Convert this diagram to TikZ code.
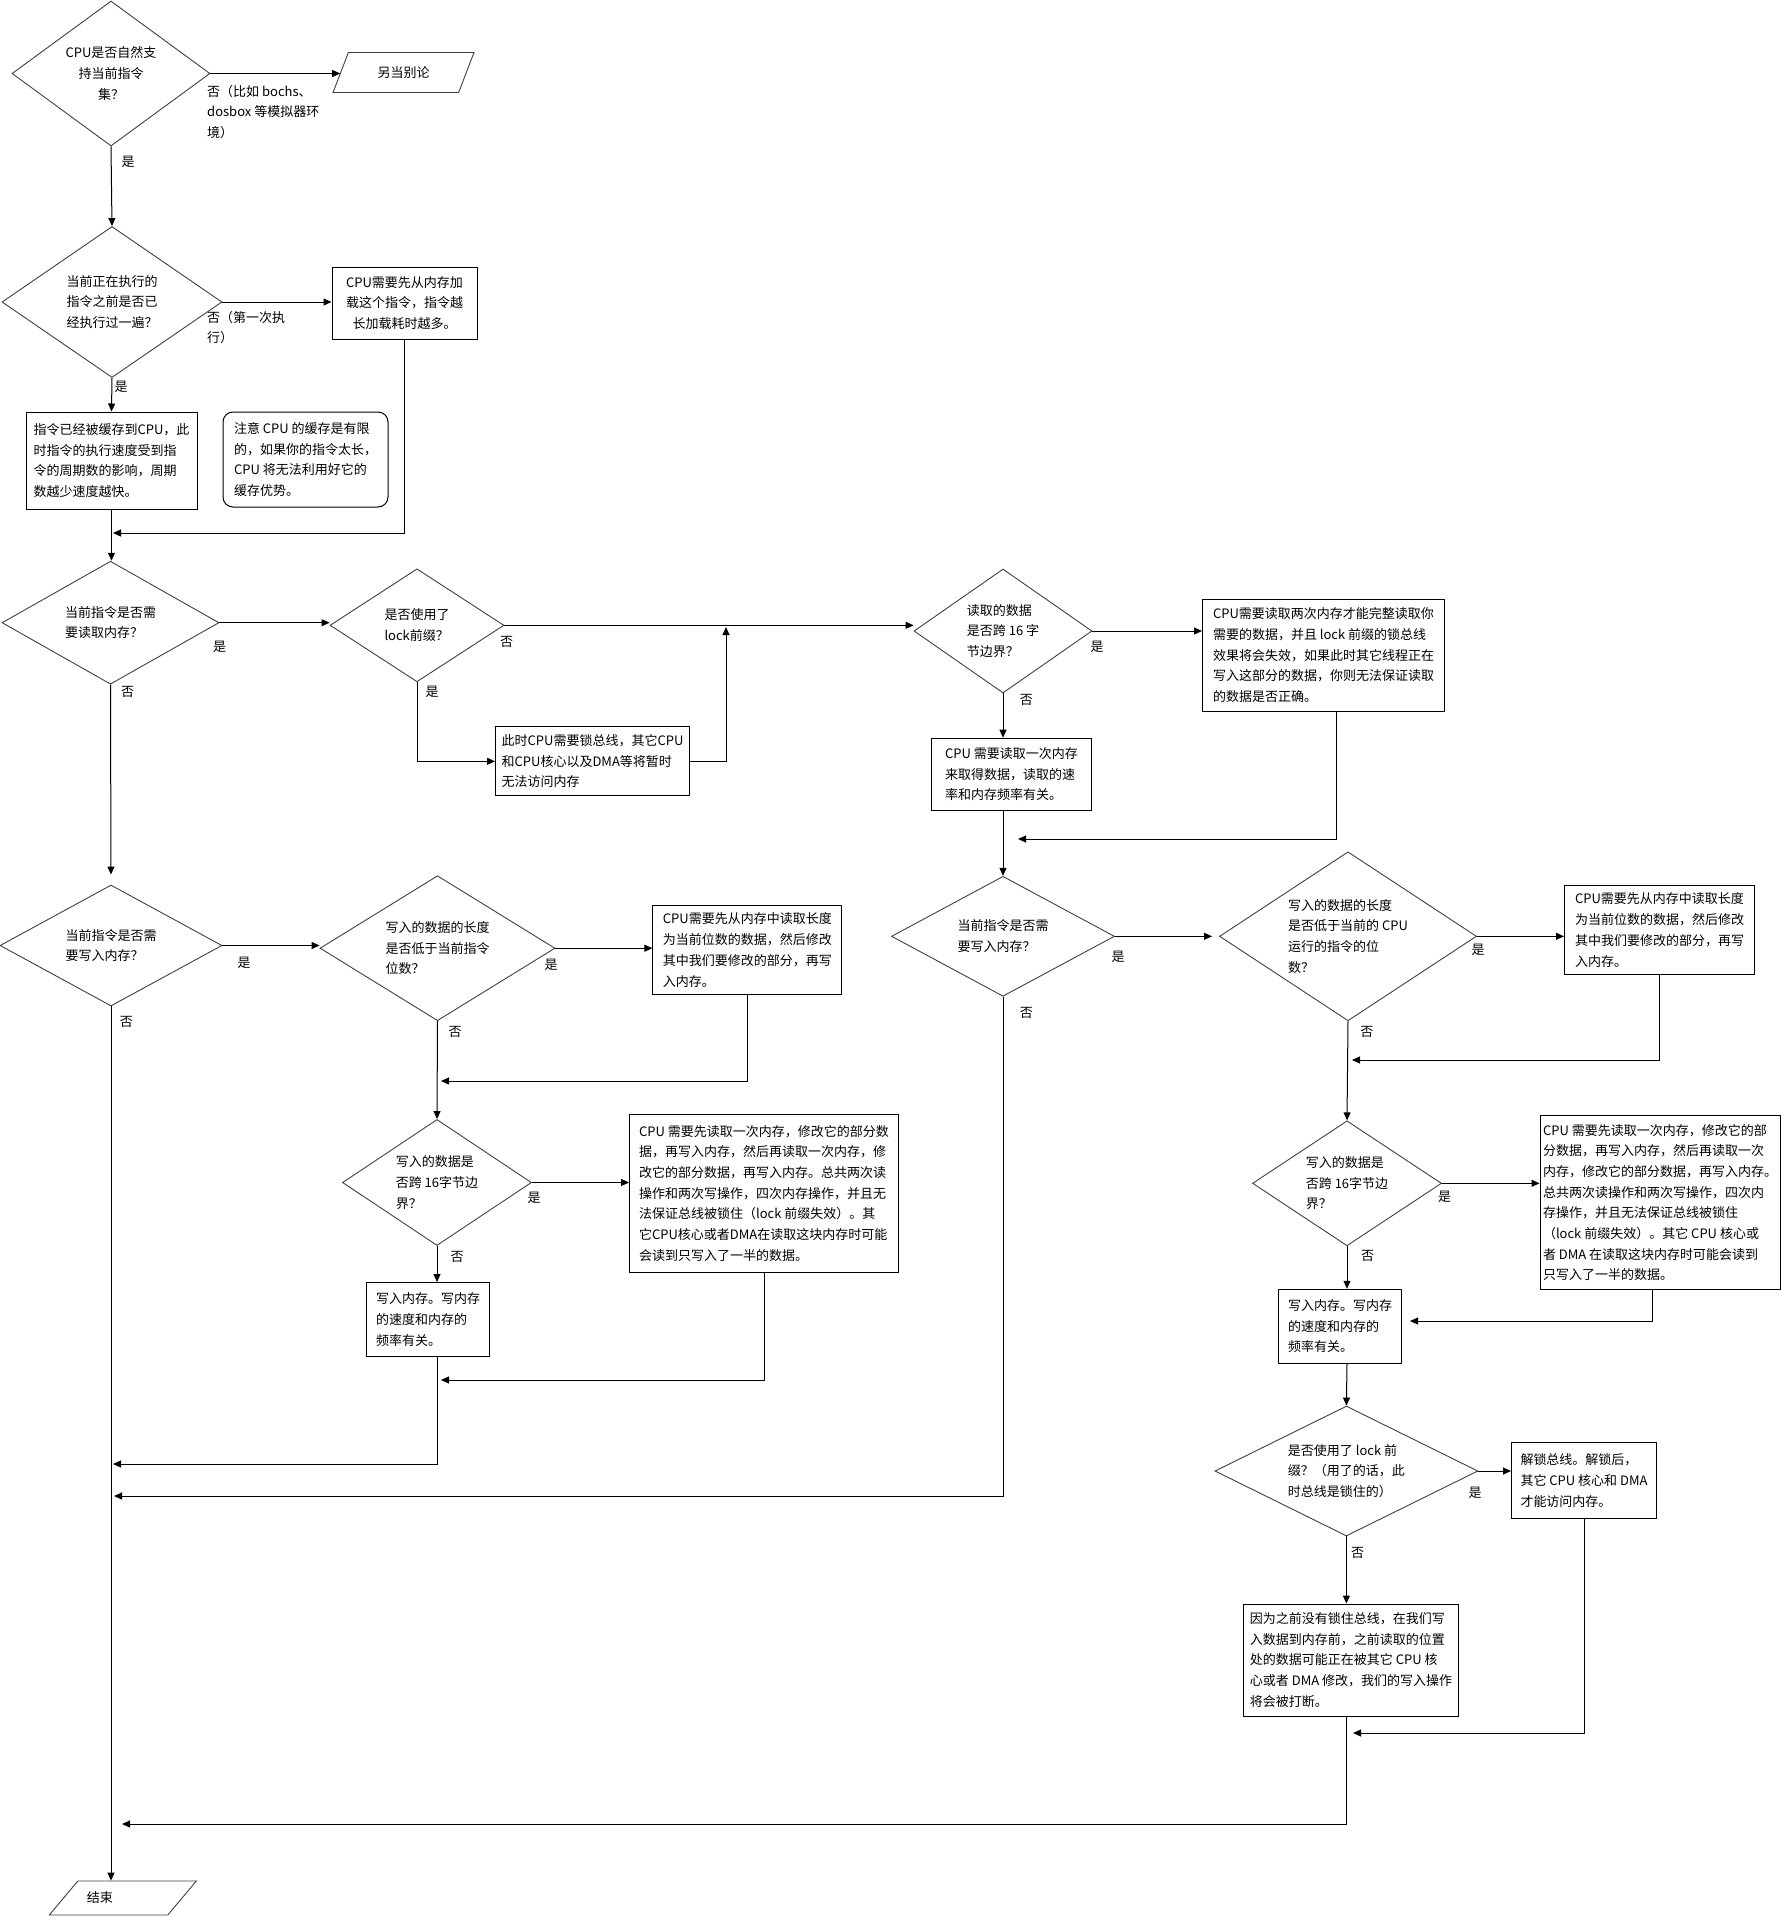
\documentclass[tikz,border=0pt]{standalone}
\usepackage{fontspec}
\setmainfont{Noto Sans CJK SC}
\usetikzlibrary{arrows.meta, shapes.geometric}

\begin{document}
\begin{tikzpicture}[
	x=1pt, y=-1pt,
	every node/.style={font=\fontsize{13pt}{20.7pt}\selectfont},
	decision/.style={diamond, draw=black!75, line width=0.9pt, inner sep=0pt, align=left},
	process/.style={draw, line width=1pt, inner sep=2pt, align=left},
	remark/.style={draw, line width=1pt, rounded corners=10pt, inner sep=2pt, align=left},
	io/.style={trapezium, trapezium stretches body, draw=black!75, line width=0.9pt, inner xsep=0pt},
	lbl/.style={inner sep=0pt, align=left},
	arrow/.style={-{Triangle[length=8pt, width=7pt]}, line width=1pt}
	]
	\useasboundingbox (0,0) rectangle (1781,1917);
	
	\node[decision, minimum width=198pt, minimum height=145pt, aspect=1.366, align=center] (cpu) at (111,73.5) {CPU是否自然支\\持当前指令\\集？};
	\node[io, trapezium left angle=69, trapezium right angle=111, inner ysep=14pt, minimum width=141pt] (other) at (403.5,72.5) {另当别论};
	\node[decision, minimum width=220pt, minimum height=151pt, aspect=1.457] (executed) at (112,302) {当前正在执行的\\指令之前是否已\\经执行过一遍？};
	\node[process, minimum width=145pt, minimum height=72pt, align=center] (load) at (404.5,303) {CPU需要先从内存加\\载这个指令，指令越\\长加载耗时越多。};
	\node[process, minimum width=171pt, minimum height=97pt] (cached) at (111.5,460.5) {指令已经被缓存到CPU，此\\时指令的执行速度受到指\\令的周期数的影响，周期\\数越少速度越快。};
	\node[remark, minimum width=165pt, minimum height=95pt] (cachenote) at (305.5,459.5) {注意 CPU 的缓存是有限\\的，如果你的指令太长，\\CPU 将无法利用好它的\\缓存优势。};
	
	\node[decision, minimum width=217pt, minimum height=123pt, aspect=1.764] (needread) at (110.5,622.7) {当前指令是否需\\要读取内存？};
	\node[decision, minimum width=174pt, minimum height=113pt, aspect=1.54] (lockread) at (417,625.3) {是否使用了\\lock前缀？};
	\node[process, minimum width=194pt, minimum height=69pt] (lockbus) at (592.5,761.3) {此时CPU需要锁总线，其它CPU\\和CPU核心以及DMA等将暂时\\无法访问内存};
	\node[decision, minimum width=178pt, minimum height=124pt, aspect=1.435] (readcross) at (1003,631) {读取的数据\\是否跨 16 字\\节边界？};
	\node[process, minimum width=242pt, minimum height=112pt] (readtwice) at (1323.5,655.3) {CPU需要读取两次内存才能完整读取你\\需要的数据，并且 lock 前缀的锁总线\\效果将会失效，如果此时其它线程正在\\写入这部分的数据，你则无法保证读取\\的数据是否正确。};
	\node[process, minimum width=160pt, minimum height=72pt] (readonce) at (1011.5,774.2) {CPU 需要读取一次内存\\来取得数据，读取的速\\率和内存频率有关。};
	
	\node[decision, minimum width=222pt, minimum height=121pt, aspect=1.835] (needwriteL) at (111,945.5) {当前指令是否需\\要写入内存？};
	\node[decision, minimum width=235pt, minimum height=145pt, aspect=1.621] (shortL) at (437.5,948.2) {写入的数据的长度\\是否低于当前指令\\位数？};
	\node[process, minimum width=189pt, minimum height=89pt] (rmwL) at (747.4,950) {CPU需要先从内存中读取长度\\为当前位数的数据，然后修改\\其中我们要修改的部分，再写\\入内存。};
	\node[decision, minimum width=189pt, minimum height=126pt, aspect=1.5] (writecrossL) at (437,1182.5) {写入的数据是\\否跨 16字节边\\界？};
	\node[process, minimum width=269pt, minimum height=158pt] (splitL) at (764,1193.3) {CPU 需要先读取一次内存，修改它的部分数\\据，再写入内存，然后再读取一次内存，修\\改它的部分数据，再写入内存。总共两次读\\操作和两次写操作，四次内存操作，并且无\\法保证总线被锁住（lock 前缀失效）。其\\它CPU核心或者DMA在读取这块内存时可能\\会读到只写入了一半的数据。};
	\node[process, minimum width=123pt, minimum height=74pt] (writeL) at (428,1319.5) {写入内存。写内存\\的速度和内存的\\频率有关。};
	
	\node[decision, minimum width=223pt, minimum height=120pt, aspect=1.858] (needwriteR) at (1003,936.3) {当前指令是否需\\要写入内存？};
	\node[decision, minimum width=257pt, minimum height=169pt, aspect=1.521] (shortR) at (1348,936.3) {写入的数据的长度\\是否低于当前的 CPU\\运行的指令的位\\数？};
	\node[process, minimum width=190pt, minimum height=89pt] (rmwR) at (1659.5,930) {CPU需要先从内存中读取长度\\为当前位数的数据，然后修改\\其中我们要修改的部分，再写\\入内存。};
	\node[decision, minimum width=189pt, minimum height=125pt, aspect=1.512] (writecrossR) at (1347,1183.3) {写入的数据是\\否跨 16字节边\\界？};
	\node[process, minimum width=240pt, minimum height=174pt] (splitR) at (1660,1202.5) {CPU 需要先读取一次内存，修改它的部\\分数据，再写入内存，然后再读取一次\\内存，修改它的部分数据，再写入内存。\\总共两次读操作和两次写操作，四次内\\存操作，并且无法保证总线被锁住\\（lock 前缀失效）。其它 CPU 核心或\\者 DMA 在读取这块内存时可能会读到\\只写入了一半的数据。};
	\node[process, minimum width=123pt, minimum height=74pt] (writeR) at (1340,1326.3) {写入内存。写内存\\的速度和内存的\\频率有关。};
	\node[decision, minimum width=263pt, minimum height=130pt, aspect=2.023] (lockwrite) at (1346.4,1471) {是否使用了 lock 前\\缀？（用了的话，此\\时总线是锁住的）};
	\node[process, minimum width=145pt, minimum height=76pt] (unlock) at (1584,1480.5) {解锁总线。解锁后，\\其它 CPU 核心和 DMA\\才能访问内存。};
	\node[process, minimum width=215pt, minimum height=112pt] (interrupt) at (1351,1660) {因为之前没有锁住总线，在我们写\\入数据到内存前，之前读取的位置\\处的数据可能正在被其它 CPU 核\\心或者 DMA 修改，我们的写入操作\\将会被打断。};
	\node[io, trapezium left angle=50, trapezium right angle=130, inner ysep=11pt, minimum width=147pt] (finish) at (122.8,1898) {\makebox[72pt][l]{结束}};
	
	\node[lbl, anchor=west] (no1) at (207,112) {否（比如 bochs、\\dosbox 等模拟器环\\境）};
	\node[lbl] (yes1) at (128,162) {是};
	\node[lbl, anchor=west] (no2) at (207,327.5) {否（第一次执\\行）};
	\node[lbl] (yes2) at (121,387) {是};
	\node[lbl] (yes3) at (219.6,646.7) {是};
	\node[lbl] (no3) at (127.5,691.7) {否};
	\node[lbl] (no4) at (506.5,641.7) {否};
	\node[lbl] (yes4) at (432,691.7) {是};
	\node[lbl] (yes5) at (1097,646.7) {是};
	\node[lbl] (no5) at (1026.4,700) {否};
	\node[lbl] (yes6) at (244,963.3) {是};
	\node[lbl] (no6) at (126.3,1022.3) {否};
	\node[lbl] (yes7) at (551,965) {是};
	\node[lbl] (no7) at (455.2,1031.7) {否};
	\node[lbl] (yes8) at (534,1197.7) {是};
	\node[lbl] (no8) at (457,1256.7) {否};
	\node[lbl] (yes9) at (1118.2,957.3) {是};
	\node[lbl] (no9) at (1026.4,1012.7) {否};
	\node[lbl] (yes10) at (1478,950) {是};
	\node[lbl] (no10) at (1366.8,1031.7) {否};
	\node[lbl] (yes11) at (1444.5,1196.7) {是};
	\node[lbl] (no11) at (1367.5,1256) {否};
	\node[lbl] (yes12) at (1475,1493.3) {是};
	\node[lbl] (no12) at (1357.5,1552.7) {否};
	
	\coordinate (joinA) at (113,533);
	\coordinate (joinB) at (726,627);
	\coordinate (joinC) at (1018,839);
	\coordinate (joinD) at (441,1081);
	\coordinate (joinE) at (441,1380);
	\coordinate (joinF) at (113,1464);
	\coordinate (joinG) at (114,1496);
	\coordinate (joinH) at (1352,1060);
	\coordinate (joinI) at (1410,1321);
	\coordinate (joinJ) at (1353,1733);
	\coordinate (joinK) at (122,1824);
	
	\draw[arrow] (cpu.east) -- (cpu.east -| other.west);
	\draw[arrow] (cpu.south) -- (executed.north);
	\draw[arrow] (executed.east) -- (executed.east -| load.west);
	\draw[arrow] (executed.south) -- (cached.north);
	\draw[arrow] (load.south) |- (joinA);
	\draw[arrow] (cached.south) -- (cached.south |- needread.north);
	\draw[arrow] (needread.east) -- (needread.east -| lockread.west);
	\draw[arrow] (lockread.south) |- (lockbus.west);
	\draw[arrow] (lockbus.east) -| (joinB);
	\draw[arrow] (lockread.east) -- (lockread.east -| readcross.west);
	\draw[arrow] (readcross.east) -- (readcross.east -| readtwice.west);
	\draw[arrow] (readcross.south) -- (readcross.south |- readonce.north);
	\draw[arrow] ([xshift=13pt]readtwice.south) |- (joinC);
	\draw[arrow] (readcross.south |- readonce.south) -- (needwriteR.north);
	\draw[arrow, shorten >=10pt] (needread.south) -- (needwriteL.north);
	\draw[arrow] (needwriteL.east) -- (needwriteL.east -| shortL.west);
	\draw[arrow] (shortL.east) -- (shortL.east -| rmwL.west);
	\draw[arrow] (rmwL.south) |- (joinD);
	\draw[arrow] (shortL.south) -- (writecrossL.north);
	\draw[arrow] (writecrossL.east) -- (writecrossL.east -| splitL.west);
	\draw[arrow] (writecrossL.south) -- (writecrossL.south |- writeL.north);
	\draw[arrow] (splitL.south) |- (joinE);
	\draw[arrow] (writecrossL.south |- writeL.south) |- (joinF);
	\draw[arrow] (needwriteL.south) -- (needwriteL.south |- finish.north);
	\draw[arrow, shorten >=7pt] (needwriteR.east) -- (needwriteR.east -| shortR.west);
	\draw[arrow] (needwriteR.south) |- (joinG);
	\draw[arrow] (shortR.east) -- (shortR.east -| rmwR.west);
	\draw[arrow] (rmwR.south) |- (joinH);
	\draw[arrow] (shortR.south) -- (writecrossR.north);
	\draw[arrow] (writecrossR.east) -- (writecrossR.east -| splitR.west);
	\draw[arrow] (writecrossR.south) -- (writecrossR.south |- writeR.north);
	\draw[arrow] ([xshift=-8pt]splitR.south) |- (joinI);
	\draw[arrow] (writecrossR.south |- writeR.south) -- (lockwrite.north);
	\draw[arrow] (lockwrite.east) -- (lockwrite.east -| unlock.west);
	\draw[arrow] (lockwrite.south) -- (lockwrite.south |- interrupt.north);
	\draw[arrow] (unlock.south) |- (joinJ);
	\draw[arrow] (lockwrite.south |- interrupt.south) |- (joinK);
\end{tikzpicture}
\end{document}
